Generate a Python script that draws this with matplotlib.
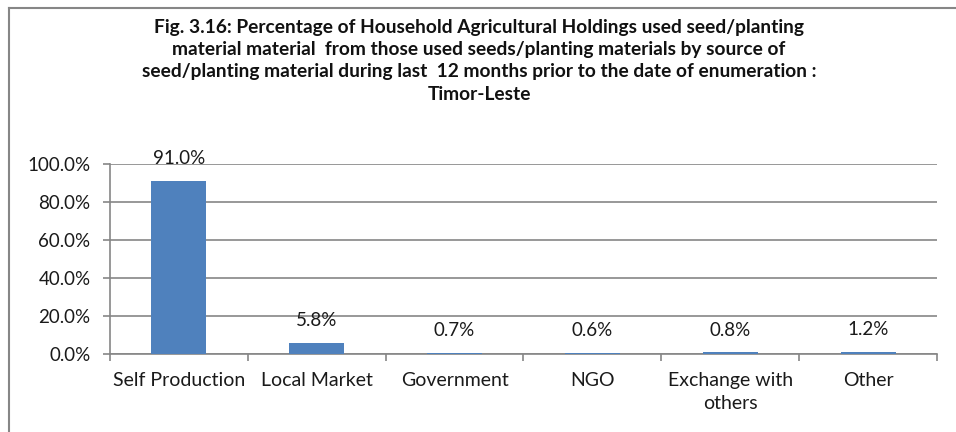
import numpy as np
import matplotlib.pyplot as plt
from matplotlib.lines import Line2D

# -----------------------------------------------------------------------------
# Data
# -----------------------------------------------------------------------------

sources = ['Self Production', 'Local Market', 'Government', 'NGO',
           'Exchange with\nothers', 'Other']
percent_used = [91.0, 5.8, 0.7, 0.6, 0.8, 1.2]
y_ticks = [0, 20, 40, 60, 80, 100]
title_lines = [
    'Fig. 3.16: Percentage of Household Agricultural Holdings used seed/planting',
    'material material  from those used seeds/planting materials by source of',
    'seed/planting material during last  12 months prior to the date of enumeration :',
    'Timor-Leste',
]

# -----------------------------------------------------------------------------
# Plot
# -----------------------------------------------------------------------------

W, H = 956, 432
plt.rcParams['font.family'] = ['Lato', 'DejaVu Sans']
grey = '#868686'

fig = plt.figure(figsize=(W / 100, H / 100), dpi=100)
ax = fig.add_axes([110 / W, 1 - 354 / H, (937 - 110) / W, (354 - 164) / H])

x = np.arange(len(sources))
ax.bar(x, percent_used, width=0.4, color='#4F81BD', zorder=3)

for xi, v in zip(x, percent_used):
    ax.annotate(f'{v:.1f}%', (xi, v), xytext=(0, 12), textcoords='offset points',
                ha='center', va='baseline', fontsize=13.5, color='#1a1a1a', zorder=4)

ax.set_xlim(-0.5, len(sources) - 0.5)
ax.set_ylim(0, 100)
ax.set_yticks(y_ticks)
ax.set_yticklabels([f'{t:.1f}%' for t in y_ticks], fontsize=13.5, color='#1a1a1a')
ax.set_xticks(x)
ax.set_xticklabels(sources, fontsize=14, color='#1a1a1a', linespacing=1.45)
ax.set_xticks(np.arange(-0.5, len(sources)), minor=True)
ax.tick_params(axis='x', which='major', length=0, pad=13)
ax.tick_params(axis='x', which='minor', length=5, width=1.2, color=grey, direction='out')
ax.tick_params(axis='y', length=5, width=1.2, color=grey, pad=9)

ax.grid(axis='y', color=grey, linewidth=1.2, zorder=0)
ax.set_axisbelow(True)
for side in ['top', 'right']:
    ax.spines[side].set_visible(False)
for side in ['left', 'bottom']:
    ax.spines[side].set_color(grey)
    ax.spines[side].set_linewidth(1.2)

# title
for i, line in enumerate(title_lines):
    fig.text(479 / W, 1 - (27 + 22.5 * i) / H, line, ha='center', va='center',
             fontsize=13.8, fontweight='bold', color='#111111')

# chart area border (left and top edges visible)
fig.add_artist(Line2D([8.5 / W, 8.5 / W], [0, 1 - 7.5 / H], transform=fig.transFigure,
                      color=grey, linewidth=1.5))
fig.add_artist(Line2D([8.5 / W, 1], [1 - 7.5 / H, 1 - 7.5 / H], transform=fig.transFigure,
                      color=grey, linewidth=1.5))

fig.savefig('out.png', dpi=100, facecolor='white')
